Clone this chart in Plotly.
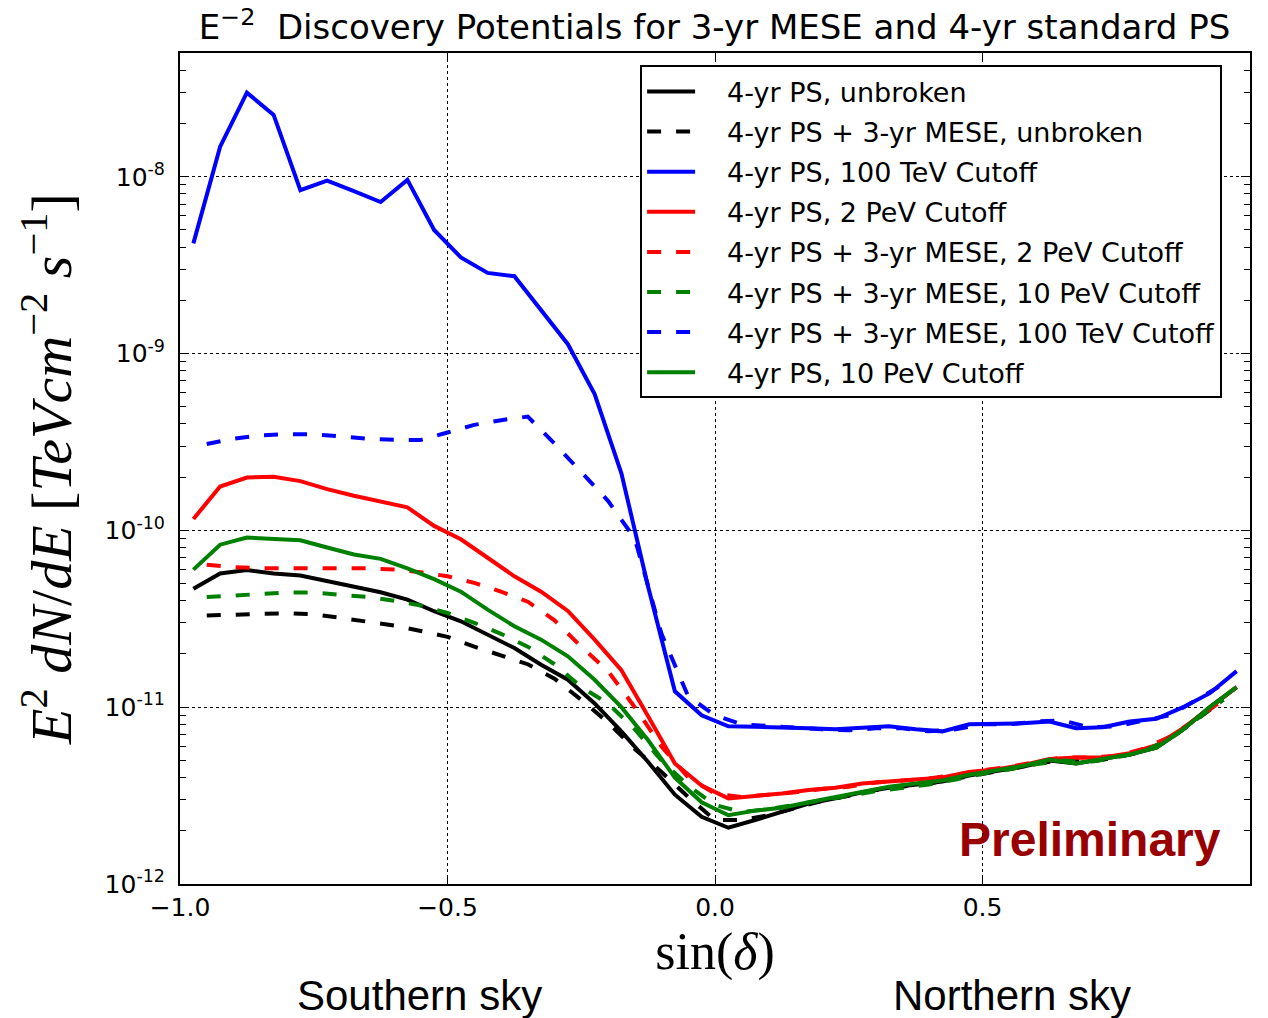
import plotly.graph_objects as go

# Declination bins: solid curves at bin centres, combined (dashed) curves on the 0.05 grid
sin_dec_ps = [round(-0.975 + 0.05 * i, 3) for i in range(40)]
sin_dec_mese = [round(-0.95 + 0.05 * i, 3) for i in range(39)]

# 4-yr PS discovery potentials (TeV cm^-2 s^-1)
ps_unbroken = [4.67e-11, 5.7e-11, 5.96e-11, 5.7e-11, 5.55e-11, 5.16e-11, 4.8e-11, 4.47e-11,
               4.06e-11, 3.49e-11, 3.06e-11, 2.57e-11, 2.16e-11, 1.74e-11, 1.43e-11, 1.05e-11,
               7.3e-12, 4.9e-12, 3.2e-12, 2.4e-12, 2.08e-12, 2.3e-12, 2.55e-12, 2.85e-12,
               3.05e-12, 3.3e-12, 3.5e-12, 3.65e-12, 3.8e-12, 4.1e-12, 4.35e-12, 4.6e-12,
               5.0e-12, 4.8e-12, 5.1e-12, 5.4e-12, 5.9e-12, 7.5e-12, 1.0e-11, 1.3e-11]
ps_100tev = [4.2e-9, 1.48e-8, 2.99e-8, 2.24e-8, 8.4e-9, 9.5e-9, 8.3e-9, 7.2e-9,
             9.6e-9, 5.0e-9, 3.5e-9, 2.86e-9, 2.74e-9, 1.77e-9, 1.13e-9, 5.9e-10,
             2.1e-10, 4.8e-11, 1.23e-11, 9.0e-12, 7.8e-12, 7.75e-12, 7.7e-12, 7.6e-12,
             7.5e-12, 7.6e-12, 7.8e-12, 7.5e-12, 7.3e-12, 8.0e-12, 8.0e-12, 8.1e-12,
             8.3e-12, 7.6e-12, 7.7e-12, 8.3e-12, 8.6e-12, 1.0e-11, 1.2e-11, 1.6e-11]
ps_2pev = [1.16e-10, 1.77e-10, 1.99e-10, 2.01e-10, 1.9e-10, 1.71e-10, 1.57e-10, 1.45e-10,
           1.35e-10, 1.06e-10, 8.9e-11, 7.0e-11, 5.5e-11, 4.5e-11, 3.5e-11, 2.41e-11,
           1.62e-11, 8.9e-12, 4.8e-12, 3.6e-12, 3.05e-12, 3.15e-12, 3.25e-12, 3.4e-12,
           3.5e-12, 3.7e-12, 3.8e-12, 3.9e-12, 4.0e-12, 4.3e-12, 4.45e-12, 4.7e-12,
           5.1e-12, 5.2e-12, 5.2e-12, 5.5e-12, 6.1e-12, 7.6e-12, 1.0e-11, 1.3e-11]
ps_10pev = [6.0e-11, 8.3e-11, 9.1e-11, 9.0e-11, 8.8e-11, 8.0e-11, 7.3e-11, 6.9e-11,
            6.1e-11, 5.3e-11, 4.5e-11, 3.56e-11, 2.87e-11, 2.41e-11, 1.94e-11, 1.43e-11,
            1.0e-11, 6.5e-12, 4.0e-12, 2.9e-12, 2.45e-12, 2.6e-12, 2.7e-12, 2.9e-12,
            3.1e-12, 3.35e-12, 3.55e-12, 3.7e-12, 3.85e-12, 4.15e-12, 4.4e-12, 4.65e-12,
            5.05e-12, 4.8e-12, 5.1e-12, 5.4e-12, 5.9e-12, 7.5e-12, 1.0e-11, 1.3e-11]

# 4-yr PS + 3-yr MESE discovery potentials
mese_unbroken = [3.3e-11, 3.35e-11, 3.37e-11, 3.4e-11, 3.35e-11, 3.2e-11, 3.05e-11, 2.9e-11,
                 2.7e-11, 2.5e-11, 2.2e-11, 1.97e-11, 1.75e-11, 1.45e-11, 1.1e-11, 8.2e-12,
                 5.8e-12, 4.3e-12, 3.1e-12, 2.3e-12, 2.3e-12, 2.45e-12, 2.7e-12, 2.95e-12,
                 3.15e-12, 3.4e-12, 3.55e-12, 3.7e-12, 3.95e-12, 4.2e-12, 4.45e-12, 4.8e-12,
                 5.0e-12, 4.9e-12, 5.2e-12, 5.6e-12, 6.6e-12, 8.5e-12, 1.1e-11]
mese_2pev = [6.4e-11, 6.2e-11, 6.1e-11, 6.1e-11, 6.1e-11, 6.1e-11, 6.1e-11, 6.0e-11,
             5.8e-11, 5.5e-11, 5.05e-11, 4.5e-11, 3.95e-11, 3.1e-11, 2.2e-11, 1.6e-11,
             1.0e-11, 6.0e-12, 4.0e-12, 3.25e-12, 3.1e-12, 3.2e-12, 3.3e-12, 3.45e-12,
             3.55e-12, 3.75e-12, 3.85e-12, 3.95e-12, 4.15e-12, 4.4e-12, 4.6e-12, 4.9e-12,
             5.2e-12, 5.2e-12, 5.3e-12, 5.8e-12, 6.8e-12, 8.6e-12, 1.1e-11]
mese_10pev = [4.2e-11, 4.27e-11, 4.35e-11, 4.45e-11, 4.45e-11, 4.35e-11, 4.2e-11, 4.0e-11,
              3.76e-11, 3.41e-11, 3.0e-11, 2.6e-11, 2.2e-11, 1.75e-11, 1.3e-11, 1.05e-11,
              7.5e-12, 5.0e-12, 3.6e-12, 2.8e-12, 2.55e-12, 2.65e-12, 2.8e-12, 2.95e-12,
              3.15e-12, 3.35e-12, 3.5e-12, 3.65e-12, 3.9e-12, 4.2e-12, 4.45e-12, 4.75e-12,
              5.0e-12, 4.9e-12, 5.2e-12, 5.6e-12, 6.6e-12, 8.5e-12, 1.1e-11]
mese_100tev = [3.08e-10, 3.3e-10, 3.45e-10, 3.5e-10, 3.5e-10, 3.4e-10, 3.3e-10, 3.25e-10,
               3.25e-10, 3.58e-10, 3.95e-10, 4.2e-10, 4.4e-10, 3.1e-10, 2.12e-10, 1.47e-10,
               9.0e-11, 2.6e-11, 1.15e-11, 9.0e-12, 8.0e-12, 7.8e-12, 7.7e-12, 7.5e-12,
               7.4e-12, 7.6e-12, 7.6e-12, 7.3e-12, 7.5e-12, 8.0e-12, 8.0e-12, 8.3e-12,
               8.4e-12, 7.7e-12, 7.8e-12, 8.4e-12, 9.0e-12, 1.1e-11, 1.35e-11]

y_tick_vals = [1e-12, 1e-11, 1e-10, 1e-9, 1e-8]
y_tick_text = ["10<sup>-12</sup>", "10<sup>-11</sup>", "10<sup>-10</sup>",
               "10<sup>-9</sup>", "10<sup>-8</sup>"]
y_minor_vals = [m * 10.0 ** e for e in range(-12, -7) for m in range(2, 10)]
x_tick_vals = [-1.0, -0.5, 0.0, 0.5, 1.0]
x_tick_text = ["\u22121.0", "\u22120.5", "0.0", "0.5", "1.0"]

BLUE, RED, GREEN, BLACK = "#0000ff", "#ff0000", "#008000", "#000000"
DASH = "14px,15px"
LW = 4

series = [
    ("4-yr PS, unbroken", sin_dec_ps, ps_unbroken, BLACK, "solid"),
    ("4-yr PS + 3-yr MESE, unbroken", sin_dec_mese, mese_unbroken, BLACK, DASH),
    ("4-yr PS, 100 TeV Cutoff", sin_dec_ps, ps_100tev, BLUE, "solid"),
    ("4-yr PS, 2 PeV Cutoff", sin_dec_ps, ps_2pev, RED, "solid"),
    ("4-yr PS + 3-yr MESE, 2 PeV Cutoff", sin_dec_mese, mese_2pev, RED, DASH),
    ("4-yr PS + 3-yr MESE, 10 PeV Cutoff", sin_dec_mese, mese_10pev, GREEN, DASH),
    ("4-yr PS + 3-yr MESE, 100 TeV Cutoff", sin_dec_mese, mese_100tev, BLUE, DASH),
    ("4-yr PS, 10 PeV Cutoff", sin_dec_ps, ps_10pev, GREEN, "solid"),
]

fig = go.Figure()
for i, (name, xs, ys, color, dash) in enumerate(series):
    fig.add_trace(go.Scatter(
        x=xs, y=ys, mode="lines", name="\u2003" + name, legendgroup=f"g{i}",
        line=dict(color=color, width=LW, dash=dash),
    ))

SANS = "DejaVu Sans"
SERIF = "Liberation Serif"
NARROW = "Liberation Sans Narrow, Liberation Sans"

fig.update_layout(
    width=1268, height=1018,
    margin=dict(l=180, r=18, t=53, b=134),
    paper_bgcolor="white", plot_bgcolor="white",
    title=dict(
        text="E<sup>\u22122</sup>  Discovery Potentials for 3-yr MESE and 4-yr standard PS",
        x=0.5635, xanchor="center", y=0.973, yanchor="middle",
        font=dict(family=SANS, size=34, color="black"),
    ),
    legend=dict(
        x=0.43, y=0.985, xanchor="left", yanchor="top",
        bgcolor="white", bordercolor="black", borderwidth=2,
        font=dict(family=SANS, size=27, color="black"),
        tracegroupgap=2, itemwidth=48,
    ),
    showlegend=True,
)

fig.update_xaxes(
    range=[-1.0, 1.0], tickvals=x_tick_vals, ticktext=x_tick_text,
    ticks="inside", ticklen=9, tickcolor="black", tickwidth=1,
    showline=True, linecolor="black", linewidth=2, mirror="allticks",
    showgrid=True, gridcolor="black", griddash="dot", gridwidth=1,
    zeroline=False,
    tickfont=dict(family=SANS, size=25, color="black"),
    title=dict(text="sin(<i>\u03b4</i>)", standoff=12,
               font=dict(family=SERIF, size=52, color="black")),
)
fig.update_yaxes(
    type="log", range=[-12, -7.3], tickvals=y_tick_vals, ticktext=y_tick_text,
    ticks="inside", ticklen=9, tickcolor="black", tickwidth=1,
    showline=True, linecolor="black", linewidth=2, mirror="allticks",
    showgrid=True, gridcolor="black", griddash="dot", gridwidth=1,
    zeroline=False, ticklabelstandoff=8,
    minor=dict(tickmode="array", tickvals=y_minor_vals, ticks="inside", ticklen=6,
               tickcolor="black", tickwidth=1, showgrid=False),
    tickfont=dict(family=SANS, size=25, color="black"),
    title=dict(
        text="<i>E</i><sup>2</sup> <i>dN</i>/<i>dE</i> [<i>TeVcm</i><sup>\u22122</sup> <i>s</i><sup>\u22121</sup>]",
        standoff=14, font=dict(family=SERIF, size=58, color="black"),
    ),
)

# Hemisphere labels under the axis and the preliminary stamp
fig.add_annotation(text="Southern sky", xref="paper", yref="paper", x=0.224, y=-0.1336,
                   showarrow=False, xanchor="center", yanchor="middle",
                   font=dict(family=NARROW, size=42, color="black"))
fig.add_annotation(text="Northern sky", xref="paper", yref="paper", x=0.778, y=-0.1336,
                   showarrow=False, xanchor="center", yanchor="middle",
                   font=dict(family=NARROW, size=42, color="black"))
fig.add_annotation(text="<b>Preliminary</b>", xref="paper", yref="paper", x=0.85, y=0.053,
                   showarrow=False, xanchor="center", yanchor="middle",
                   font=dict(family=NARROW, size=48, color="#990000"))

fig.write_html("out.html")
